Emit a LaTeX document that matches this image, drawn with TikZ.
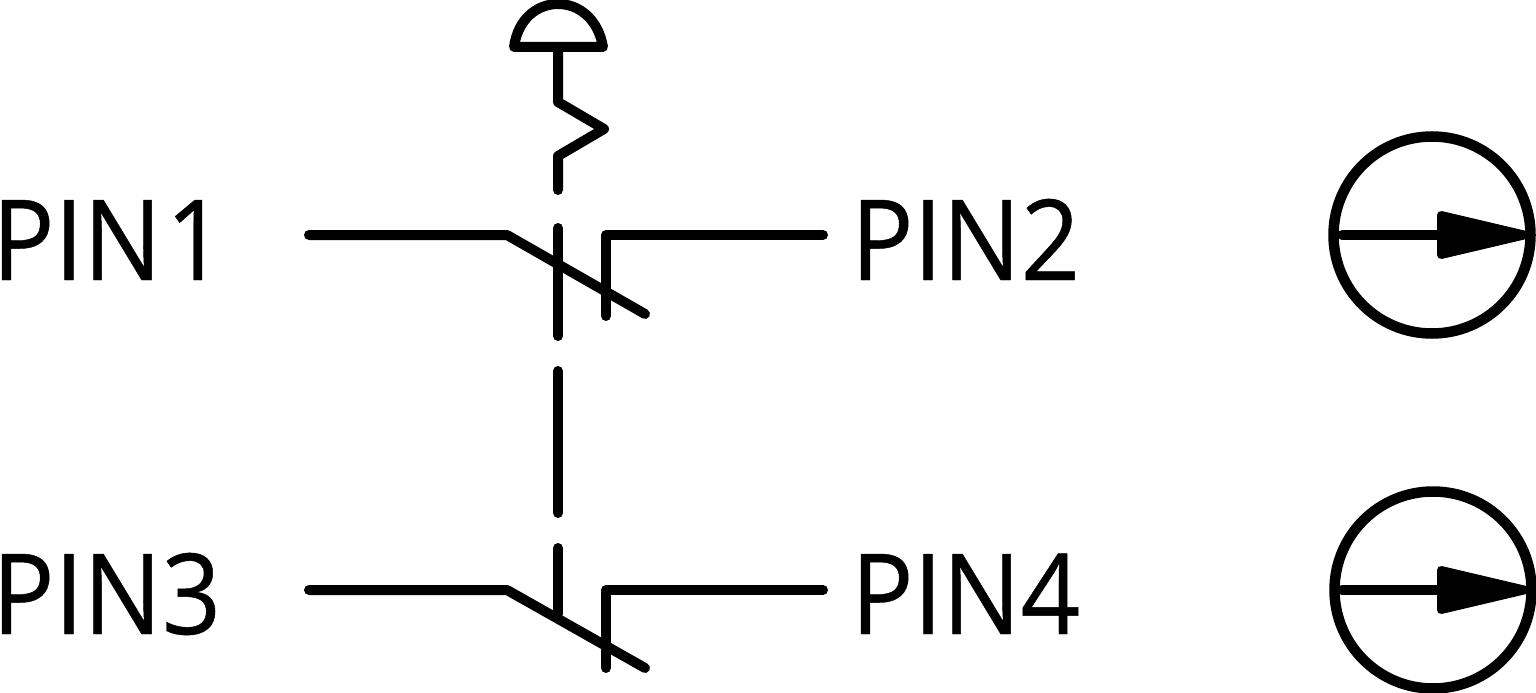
\documentclass[tikz,border=0pt]{standalone}
\usepackage{fontspec}
\setmainfont[FakeStretch=0.927,FakeBold=0.4]{Open Sans}
\tikzset{
  x=1pt,y=-1pt,
  wire/.style={line width=10pt,line cap=round,line join=round,black},
  pin/.style={inner sep=0pt,outer sep=0pt,anchor=base west,font=\fontsize{112}{112}\selectfont,black},
  dial/.style={circle,draw=black,line width=10.5pt,minimum size=197pt,inner sep=0pt,outer sep=0pt},
  tip/.style={wire,line width=8pt,fill=black}
}
\begin{document}
\begin{tikzpicture}
\useasboundingbox (0,0) rectangle (1536,693);
% labels
\node[pin] (p1) at (-8,280) {PIN\kern4pt 1};
\node[pin] (p2) at (851,280) {PIN2};
\node[pin] (p3) at (-8,634) {PIN3};
\node[pin] (p4) at (851,634) {PIN4};
% push button actuator
\coordinate (domeL) at (514,47);
\coordinate (domeR) at (603,47);
\coordinate (stem) at (558,47);
\coordinate (z1) at (558,102);
\coordinate (z2) at (604,129);
\coordinate (z3) at (558,156);
\coordinate (z4) at (558,190);
\draw[wire] (domeL) .. controls (518,18) and (538,4) .. (558,4) .. controls (578,4) and (598,18) .. (domeR) -- cycle;
\draw[wire] (stem) -- (z1) -- (z2) -- (z3) -- (z4);
% upper contact
\coordinate (a1) at (309,235);
\coordinate (a2) at (507,235);
\coordinate (a3) at (645,314);
\coordinate (a4) at (606,316);
\coordinate (a5) at (606,235);
\coordinate (a6) at (823,235);
\coordinate (v1) at (558,228);
\coordinate (v2) at (558,336);
\draw[wire] (a1) -- (a2) -- (a3);
\draw[wire] (a4) -- (a5) -- (a6);
\draw[wire] (v1) -- (v2);
% link
\coordinate (l1) at (558,371);
\coordinate (l2) at (558,513);
\draw[wire] (l1) -- (l2);
% lower contact
\coordinate (b1) at (309,590);
\coordinate (b2) at (507,590);
\coordinate (b3) at (645,668);
\coordinate (b4) at (606,668);
\coordinate (b5) at (606,590);
\coordinate (b6) at (823,590);
\coordinate (u1) at (558,548);
\coordinate (u2) at (558,614);
\draw[wire] (b1) -- (b2) -- (b3);
\draw[wire] (b4) -- (b5) -- (b6);
\draw[wire] (u1) -- (u2);
% dials
\node[dial] (d1) at (1432,235) {};
\node[dial] (d2) at (1433,590) {};
\coordinate (s1) at (1342,235);
\coordinate (e1) at (1441,235);
\coordinate (s2) at (1342,590);
\coordinate (e2) at (1441,590);
\draw[wire] (s1) -- (e1);
\draw[wire] (s2) -- (e2);
\draw[tip] (1441,215) -- (1526,235) -- (1441,255) -- cycle;
\draw[tip] (1441,570) -- (1526,590) -- (1441,610) -- cycle;
\end{tikzpicture}
\end{document}
